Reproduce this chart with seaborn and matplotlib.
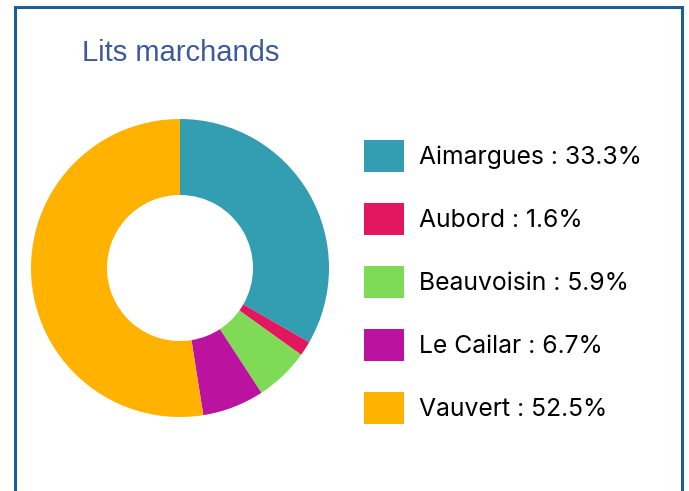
import matplotlib
matplotlib.use("Agg")
import matplotlib.pyplot as plt
import seaborn as sns
from matplotlib.patches import Rectangle

# data
communes = ["Aimargues", "Aubord", "Beauvoisin", "Le Cailar", "Vauvert"]
parts = [33.3, 1.6, 5.9, 6.7, 52.5]
colors = ["#339eb1", "#e2175f", "#7fdb55", "#bb12a0", "#ffb300"]
title = "Lits marchands"

sns.set_theme(style="white")
plt.rcParams["font.family"] = ["Inter", "DejaVu Sans"]

W, H = 689, 491
fig = plt.figure(figsize=(W / 100, H / 100), dpi=100)
fig.patch.set_facecolor("white")

# card border
fig.add_artist(Rectangle((14.5 / W, -0.05), (682.5 - 14.5) / W, (H - 7.5) / H + 0.05,
                         transform=fig.transFigure, fill=False,
                         edgecolor="#1f5f8f", linewidth=2.2))

fig.text(82 / W, 1 - 61 / H, title, color="#3d5a98", fontsize=21,
         family=["Liberation Sans", "DejaVu Sans"])

# donut
cx, cy, r = 180, 268, 149
ax = fig.add_axes([(cx - r) / W, (H - cy - r) / H, 2 * r / W, 2 * r / H])
wedges, _ = ax.pie(parts, colors=colors, startangle=90, counterclock=False,
                   wedgeprops=dict(width=0.51, linewidth=0))
ax.set_xlim(-1, 1)
ax.set_ylim(-1, 1)
ax.set_aspect("equal")
ax.axis("off")

labels = [f"{c} : {p}%" for c, p in zip(communes, parts)]
fs = 17.8
px = fs * 100 / 72
hh = (32 * 0.72 / fs - 0.245) / 0.65
row = hh * px
fig.legend(wedges, labels, loc="upper left",
           bbox_to_anchor=(364 / W, 1 - 140 / H), frameon=False,
           fontsize=fs, labelcolor="black", borderpad=0, borderaxespad=0,
           handlelength=40 / px, handleheight=hh,
           labelspacing=(63 - row + 7.8) / px, handletextpad=15 / px)

fig.savefig("out.png", dpi=100, facecolor="white")
